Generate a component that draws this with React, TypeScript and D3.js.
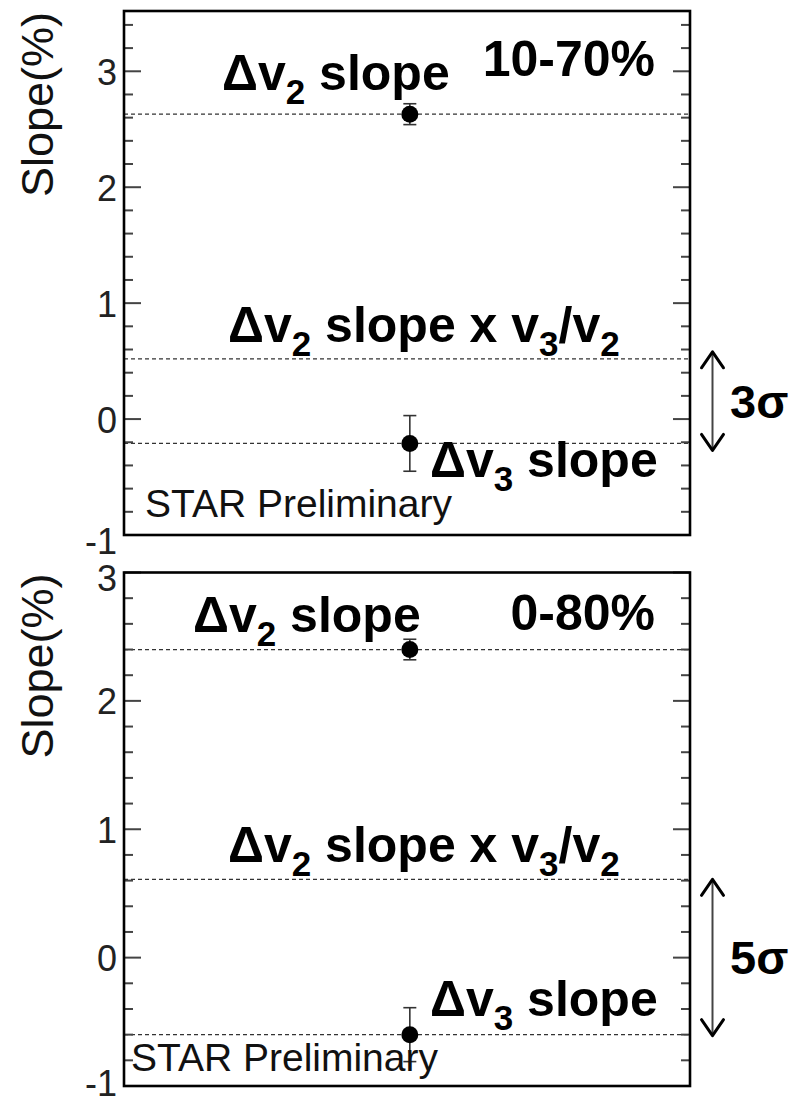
import React from "react";
import * as d3 from "d3";

// Centrality classes shown in the two stacked panels
const centralities = ["10-70%", "0-80%"];
// Measured Δv2 slope (%) and its uncertainty
const dv2Slope = [2.63, 2.4];
const dv2SlopeErr = [0.09, 0.08];
// Expectation Δv2 slope scaled by v3/v2
const dv2ScaledSlope = [0.52, 0.61];
// Measured Δv3 slope (%) and its uncertainty
const dv3Slope = [-0.21, -0.6];
const dv3SlopeErr = [0.24, 0.21];
// Significance of the difference
const significance = ["3", "5"];
// Vertical ranges of the panels
const yLow = [-1, -1];
const yHigh = [3.52, 3.0];
const yTickValues = [-1, 0, 1, 2, 3];

const W = 792;
const H = 1101;
const FONT = "'Liberation Sans', Arial, Helvetica, sans-serif";
const BIG = 50;
const SUB = 35;
const SUB_DY = 14;

// Frame placement and annotation anchors for each panel
const layout = [
  {
    top: 11,
    bottom: 535,
    dv2Label: { x: 222, y: 90 },
    cent: { x: 655, y: 76 },
    scaledLabel: { x: 228, y: 342 },
    dv3Label: { x: 430, y: 477 },
    star: { x: 145, y: 517 },
    lastTickShift: 6,
  },
  {
    top: 572.5,
    bottom: 1086,
    dv2Label: { x: 193, y: 632 },
    cent: { x: 655, y: 630 },
    scaledLabel: { x: 228, y: 862 },
    dv3Label: { x: 430, y: 1016 },
    star: { x: 131, y: 1071 },
    lastTickShift: -3,
  },
];
const LEFT = 124;
const RIGHT = 690;

function SubLabel({ x, y, parts }: { x: number; y: number; parts: (string | [string])[] }) {
  // plain strings are normal text, [string] is a subscript
  const nodes: React.ReactNode[] = [];
  let down = false;
  parts.forEach((p, i) => {
    if (Array.isArray(p)) {
      nodes.push(
        <tspan key={i} fontSize={SUB} dy={SUB_DY}>
          {p[0]}
        </tspan>
      );
      down = true;
    } else {
      nodes.push(
        <tspan key={i} fontSize={BIG} dy={down ? -SUB_DY : 0}>
          {p}
        </tspan>
      );
      down = false;
    }
  });
  return (
    <text x={x} y={y} fontFamily={FONT} fontWeight="bold" fill="#000" style={{ whiteSpace: "pre" }}>
      {nodes}
    </text>
  );
}

function Panel({ i }: { i: number }) {
  const L = layout[i];
  const y = d3.scaleLinear().domain([yLow[i], yHigh[i]]).range([L.bottom, L.top]);
  const x = d3.scaleLinear().domain([0, 1]).range([LEFT, RIGHT]);
  const minor = d3.range(Math.round(yLow[i] * 5), Math.floor(yHigh[i] * 5 + 1e-6) + 1).map((k) => k / 5);
  const xc = x(0.505);

  const dotted = [dv2Slope[i], dv2ScaledSlope[i], dv3Slope[i]];
  const points = [
    { v: dv2Slope[i], e: dv2SlopeErr[i] },
    { v: dv3Slope[i], e: dv3SlopeErr[i] },
  ];

  const ax = 712.5;
  const aTop = y(dv2ScaledSlope[i]) - 7 + i * 7;
  const aBot = y(dv3Slope[i]) + 7 - i * 6;

  return (
    <g>
      {/* reference lines */}
      {dotted.map((v, k) => (
        <line
          key={k}
          x1={LEFT}
          x2={RIGHT}
          y1={y(v)}
          y2={y(v)}
          stroke="#333"
          strokeWidth={1.3}
          strokeDasharray="4,3"
        />
      ))}
      {/* ticks on both vertical axes */}
      {minor.map((v) => {
        const major = Math.abs(v - Math.round(v)) < 1e-6;
        const len = major ? 17 : 9;
        return (
          <g key={v} stroke="#444" strokeWidth={2}>
            <line x1={LEFT} x2={LEFT + len} y1={y(v)} y2={y(v)} />
            <line x1={RIGHT} x2={RIGHT - len} y1={y(v)} y2={y(v)} />
          </g>
        );
      })}
      {/* tick labels */}
      {yTickValues
        .filter((v) => v >= yLow[i] && v <= yHigh[i] + 1e-6)
        .map((v) => {
          const atBottom = Math.abs(y(v) - L.bottom) < 1;
          const atTop = Math.abs(y(v) - L.top) < 1;
          const shift = atBottom ? L.lastTickShift : atTop ? 6 : 1;
          return (
            <text
              key={v}
              x={117}
              y={y(v) + shift}
              textAnchor="end"
              dominantBaseline="central"
              fontFamily={FONT}
              fontSize={36}
              fill="#222"
            >
              {v}
            </text>
          );
        })}
      {/* axis title */}
      <text
        transform={`translate(53,${L.top + 1}) rotate(-90)`}
        textAnchor="end"
        fontFamily={FONT}
        fontSize={45}
        fill="#111"
      >
        Slope(%)
      </text>
      {/* frame */}
      <rect x={LEFT} y={L.top} width={RIGHT - LEFT} height={L.bottom - L.top} fill="none" stroke="#000" strokeWidth={2.6} />
      {/* data points with error bars */}
      {points.map((p, k) => (
        <g key={k}>
          <line x1={xc} x2={xc} y1={y(p.v + p.e)} y2={y(p.v - p.e)} stroke="#333" strokeWidth={1.6} />
          <line x1={xc - 6.5} x2={xc + 6.5} y1={y(p.v + p.e)} y2={y(p.v + p.e)} stroke="#333" strokeWidth={1.6} />
          <line x1={xc - 6.5} x2={xc + 6.5} y1={y(p.v - p.e)} y2={y(p.v - p.e)} stroke="#333" strokeWidth={1.6} />
          <circle cx={xc} cy={y(p.v)} r={8.5} fill="#000" />
        </g>
      ))}
      {/* annotations */}
      <SubLabel x={L.dv2Label.x} y={L.dv2Label.y} parts={["Δv", ["2"], " slope"]} />
      <text
        x={L.cent.x}
        y={L.cent.y}
        textAnchor="end"
        fontFamily={FONT}
        fontWeight="bold"
        fontSize={BIG}
        fill="#000"
      >
        {centralities[i]}
      </text>
      <SubLabel
        x={L.scaledLabel.x}
        y={L.scaledLabel.y}
        parts={["Δv", ["2"], " slope x v", ["3"], "/v", ["2"]]}
      />
      <SubLabel x={L.dv3Label.x} y={L.dv3Label.y} parts={["Δv", ["3"], " slope"]} />
      <text x={L.star.x} y={L.star.y} fontFamily={FONT} fontSize={39} fill="#111">
        STAR Preliminary
      </text>
      {/* significance arrow */}
      <line x1={ax} x2={ax} y1={aTop + 2} y2={aBot - 2} stroke="#444" strokeWidth={2} />
      <polyline
        points={`${ax - 11},${aTop + 16} ${ax},${aTop} ${ax + 11},${aTop + 16}`}
        fill="none"
        stroke="#000"
        strokeWidth={3}
        strokeLinecap="round"
        strokeLinejoin="round"
      />
      <polyline
        points={`${ax - 11},${aBot - 16} ${ax},${aBot} ${ax + 11},${aBot - 16}`}
        fill="none"
        stroke="#000"
        strokeWidth={3}
        strokeLinecap="round"
        strokeLinejoin="round"
      />
      <text
        x={730}
        y={(aTop + aBot) / 2 + 17}
        fontFamily={FONT}
        fontWeight="bold"
        fontSize={47}
        fill="#000"
      >
        {significance[i]}σ
      </text>
    </g>
  );
}

export default function App() {
  return (
    <svg
      width={W}
      height={H}
      viewBox={`0 0 ${W} ${H}`}
      style={{ position: "absolute", left: 0, top: 0, background: "#fff" }}
    >
      <rect width={W} height={H} fill="#fff" />
      {centralities.map((_, i) => (
        <Panel key={i} i={i} />
      ))}
    </svg>
  );
}
